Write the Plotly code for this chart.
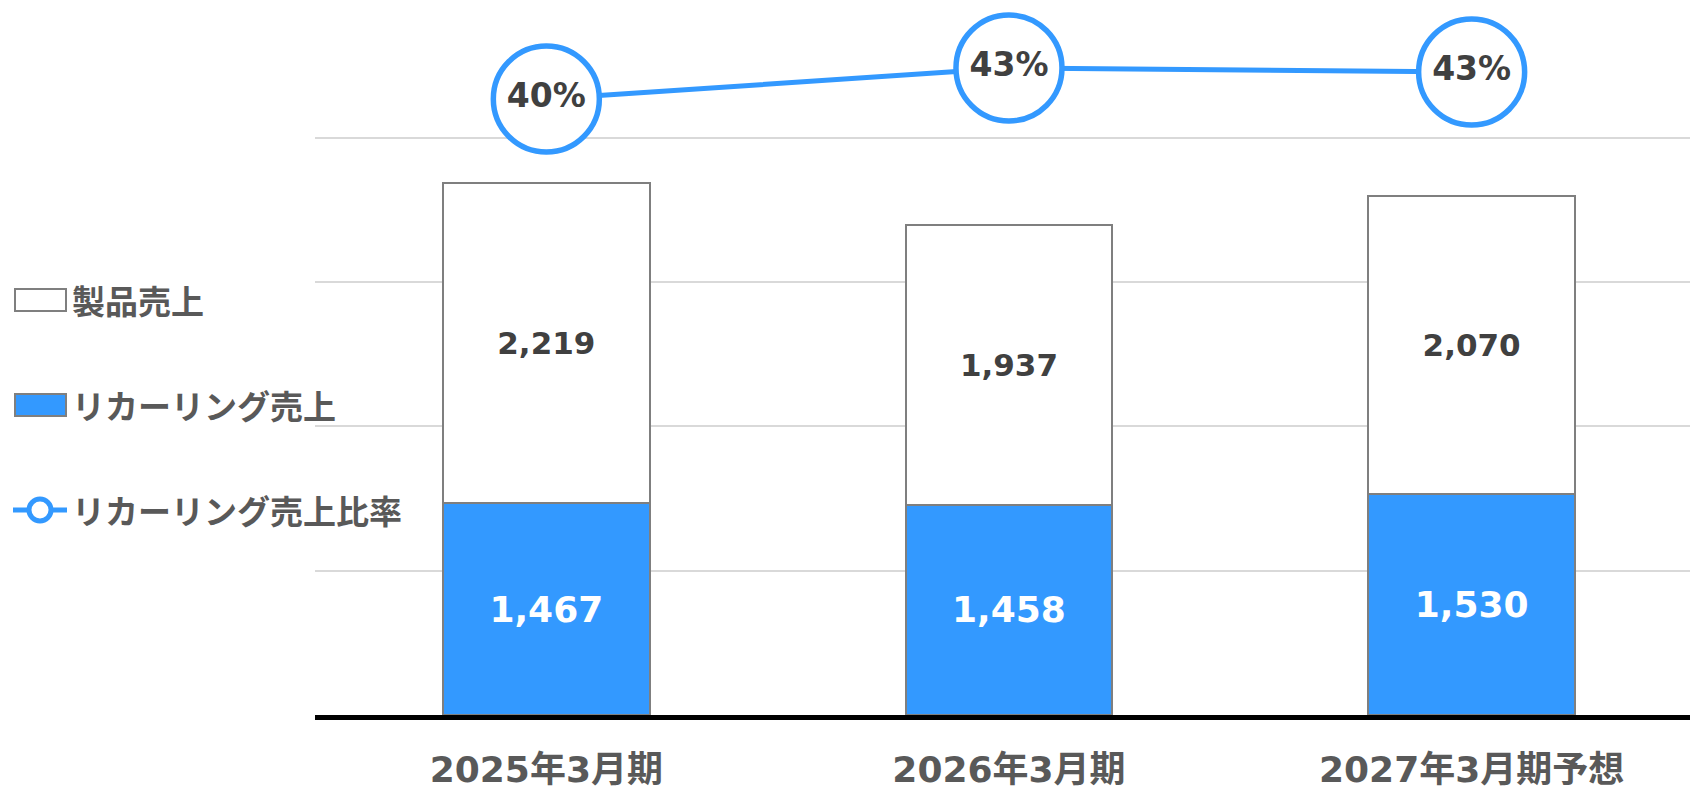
import plotly.graph_objects as go

# ---- data ----
categories = ["2025年3月期", "2026年3月期", "2027年3月期予想"]
recurring_sales = [1467, 1458, 1530]
product_sales = [2219, 1937, 2070]
recurring_ratio = [39.8, 42.9, 42.5]
series_names = ["製品売上", "リカーリング売上", "リカーリング売上比率"]

# ---- styles ----
W, H = 1690, 791
ML, MR, MT, MB = 315, 0, 0, 76
BLUE = "#3399FF"
EDGE = "#7F7F7F"
LABEL_DARK = "#404040"
LABEL_GRAY = "#595959"
NUM_FONT = "DejaVu Sans, Noto Sans CJK JP, sans-serif"
JP_FONT = "Noto Sans CJK JP, sans-serif"

fig = go.Figure()

fig.add_bar(
    x=categories, y=recurring_sales, name=series_names[1],
    width=0.447,
    marker=dict(color=BLUE, line=dict(color=EDGE, width=2)),
    texttemplate="%{y:,}", textposition="inside", insidetextanchor="middle",
    textangle=0, constraintext="none",
    textfont=dict(color="white", size=36, family=NUM_FONT, weight="bold"),
    hoverinfo="skip",
)
fig.add_bar(
    x=categories, y=product_sales, name=series_names[0],
    width=0.447,
    marker=dict(color="white", line=dict(color=EDGE, width=2)),
    texttemplate="%{y:,}", textposition="inside", insidetextanchor="middle",
    textangle=0, constraintext="none",
    textfont=dict(color=LABEL_DARK, size=31, family=NUM_FONT, weight="bold"),
    hoverinfo="skip",
)
fig.add_scatter(
    x=categories, y=recurring_ratio, name=series_names[2], yaxis="y2",
    mode="lines+markers+text",
    line=dict(color=BLUE, width=5),
    marker=dict(size=106, color="white", line=dict(color=BLUE, width=5.5)),
    texttemplate="%{y:.0f}%", textposition="middle center",
    textfont=dict(color=LABEL_DARK, size=33, family=NUM_FONT, weight="bold"),
    cliponaxis=False, hoverinfo="skip",
)

plot_w = W - ML - MR
plot_h = H - MT - MB


def px_x(p):
    return (p - ML) / plot_w


def px_y(p):
    return (MT + plot_h - p) / plot_h


shapes = []
annotations = []
# custom legend
legend_rows = [
    (series_names[0], 300, "rect", "white"),
    (series_names[1], 405, "rect", BLUE),
    (series_names[2], 510, "line", None),
]
for name, cy, kind, fill in legend_rows:
    if kind == "rect":
        shapes.append(dict(type="rect", xref="paper", yref="paper",
                           x0=px_x(15), x1=px_x(66), y0=px_y(cy - 11), y1=px_y(cy + 11),
                           fillcolor=fill, line=dict(color=EDGE, width=2)))
    else:
        shapes.append(dict(type="line", xref="paper", yref="paper",
                           x0=px_x(13), x1=px_x(67), y0=px_y(cy), y1=px_y(cy),
                           line=dict(color=BLUE, width=5)))
        shapes.append(dict(type="circle", xref="paper", yref="paper",
                           x0=px_x(29), x1=px_x(51), y0=px_y(cy - 11), y1=px_y(cy + 11),
                           fillcolor="white", line=dict(color=BLUE, width=5)))
    annotations.append(dict(text=name, xref="paper", yref="paper",
                            x=px_x(70), y=px_y(cy), xanchor="left", yanchor="middle",
                            showarrow=False,
                            font=dict(size=33, color=LABEL_GRAY, family=JP_FONT, weight="bold")))

fig.update_layout(
    width=W, height=H,
    margin=dict(l=ML, r=MR, t=MT, b=MB, pad=0, autoexpand=False),
    paper_bgcolor="white", plot_bgcolor="white",
    barmode="stack", showlegend=False,
    shapes=shapes, annotations=annotations,
    xaxis=dict(
        type="category", range=[-0.5, 2.472], automargin=False,
        showline=True, linecolor="black", linewidth=5,
        showgrid=False, ticks="", zeroline=False,
        ticklabelstandoff=19,
        tickfont=dict(size=36, color=LABEL_GRAY, family=NUM_FONT, weight="bold"),
    ),
    yaxis=dict(
        range=[0, 4955], dtick=1000, showgrid=True, gridcolor="#D9D9D9", gridwidth=2,
        showticklabels=False, zeroline=False, showline=False, ticks="", automargin=False,
    ),
    yaxis2=dict(
        overlaying="y", range=[-21.8, 49.7], visible=False, showgrid=False, automargin=False,
    ),
)

fig.write_html(
    "out.html",
    config={"displayModeBar": False, "staticPlot": True},
    post_script="document.body.style.margin='0';document.body.style.overflow='hidden';",
)
